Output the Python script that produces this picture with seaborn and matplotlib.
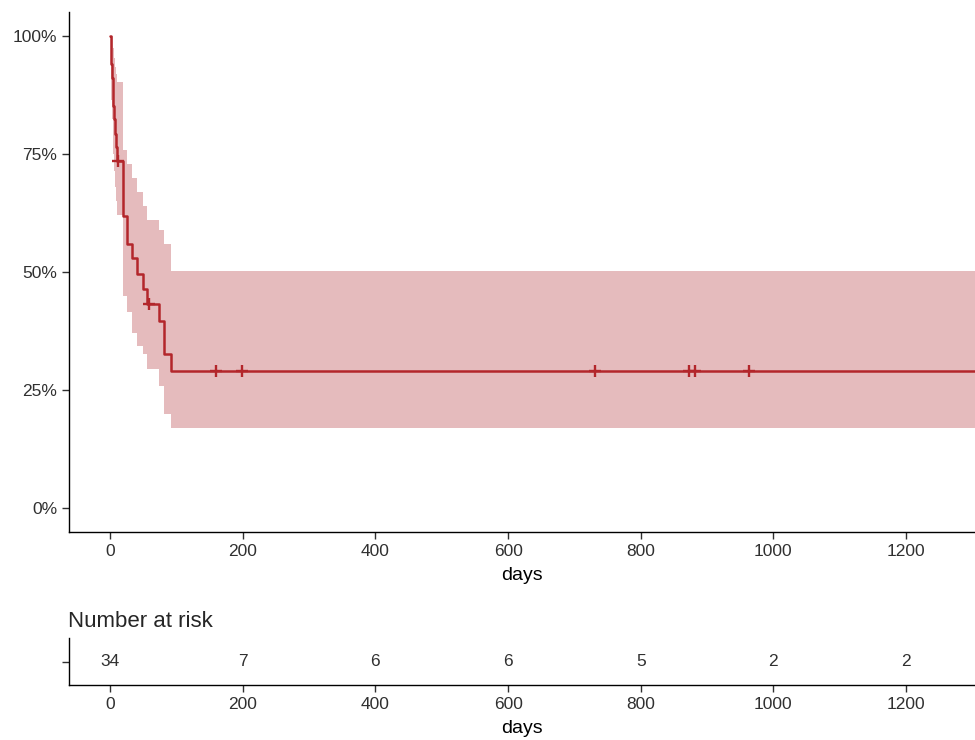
import numpy as np
import pandas as pd
import matplotlib
matplotlib.use("Agg")
import matplotlib.pyplot as plt
import seaborn as sns
from matplotlib.ticker import PercentFormatter

# Kaplan-Meier steps (days, survival, lower CI, upper CI)
times = [0, 1, 2, 3, 4, 5, 6, 8, 9, 10, 20, 26, 33, 41, 50, 56, 73, 81, 92, 1320]
surv = [1.000, 0.971, 0.941, 0.912, 0.882, 0.853, 0.824, 0.794, 0.765, 0.735,
        0.618, 0.559, 0.529, 0.496, 0.464, 0.432, 0.396, 0.326, 0.290, 0.290]
lower = [1.000, 0.915, 0.865, 0.825, 0.785, 0.750, 0.715, 0.680, 0.650, 0.620,
         0.450, 0.415, 0.370, 0.343, 0.326, 0.294, 0.258, 0.199, 0.168, 0.168]
upper = [1.000, 1.000, 1.000, 1.000, 0.995, 0.975, 0.955, 0.935, 0.920, 0.903,
         0.760, 0.730, 0.700, 0.670, 0.640, 0.610, 0.590, 0.560, 0.503, 0.503]

# censored observations
cens_times = [12, 59, 160, 199, 731, 873, 882, 963]
cens_surv = [0.735, 0.432, 0.290, 0.290, 0.290, 0.290, 0.290, 0.290]

# number at risk table
risk_times = [0, 200, 400, 600, 800, 1000, 1200]
risk_n = [34, 7, 6, 6, 5, 2, 2]

km = pd.DataFrame({"days": times, "surv": surv, "lower": lower, "upper": upper})
cens = pd.DataFrame({"days": cens_times, "surv": cens_surv})

sns.set_theme(style="ticks")
plt.rcParams["font.family"] = ["Liberation Sans", "DejaVu Sans"]
line_col = "#b3262b"
band_col = "#e5bbbd"
txt_col = "#303030"

fig = plt.figure(figsize=(9.75, 7.4), dpi=100)
ax = fig.add_axes([69 / 975, 1 - 532 / 740, 1 - 69 / 975, (532 - 12) / 740])
ax2 = fig.add_axes([69 / 975, 1 - 685 / 740, 1 - 69 / 975, 47 / 740])

# === courbe de survie ===
ax.fill_between(km["days"], km["lower"], km["upper"], step="post",
                color=band_col, linewidth=0)
sns.lineplot(data=km, x="days", y="surv", drawstyle="steps-post",
             color=line_col, linewidth=1.8, estimator=None, ax=ax)
sns.scatterplot(data=cens, x="days", y="surv", marker="+", s=85,
                color=line_col, linewidth=1.7, ax=ax, zorder=3)

ax.set_xlim(-62, 1304)
ax.set_ylim(-0.052, 1.052)
ax.set_xticks(risk_times)
ax.set_yticks([0, 0.25, 0.5, 0.75, 1.0])
ax.yaxis.set_major_formatter(PercentFormatter(1.0, decimals=0))
ax.set_xlabel("days", fontsize=14, color="black", labelpad=6)
ax.set_ylabel("")
ax.tick_params(labelsize=12.5, labelcolor=txt_col, length=5, width=1,
               color=txt_col)
sns.despine(ax=ax)
for s in ["left", "bottom"]:
    ax.spines[s].set_color("black")
    ax.spines[s].set_linewidth(1)

# === table des effectifs ===
for t, n in zip(risk_times, risk_n):
    ax2.text(t, 1, str(n), ha="center", va="center", fontsize=12.5,
             color=txt_col)
ax2.set_xlim(-62, 1304)
ax2.set_ylim(0.5, 1.5)
ax2.set_xticks(risk_times)
ax2.set_yticks([1])
ax2.set_yticklabels([""])
ax2.set_xlabel("days", fontsize=14, color="black", labelpad=6)
ax2.set_title("Number at risk", loc="left", fontsize=16, pad=8, x=-0.001)
ax2.tick_params(labelsize=12.5, labelcolor=txt_col, length=5, width=1,
                color=txt_col)
sns.despine(ax=ax2)
for s in ["left", "bottom"]:
    ax2.spines[s].set_color("black")
    ax2.spines[s].set_linewidth(1)

fig.savefig("out.png", dpi=100)
